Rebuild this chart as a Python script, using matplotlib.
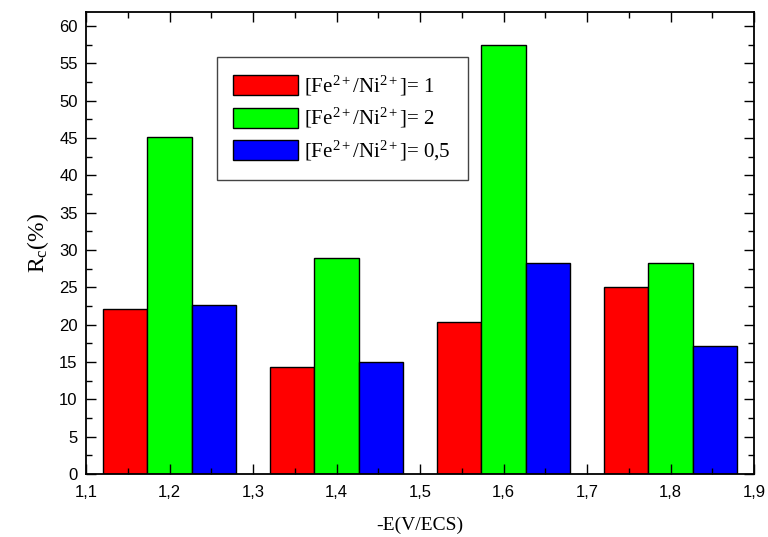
import matplotlib
matplotlib.use("Agg")
import matplotlib.pyplot as plt
from matplotlib.ticker import MultipleLocator, FuncFormatter

# data
potentials = [1.2, 1.4, 1.6, 1.8]
rc_ratio_1 = [22.1, 14.4, 20.4, 25.0]
rc_ratio_2 = [45.1, 29.0, 57.4, 28.3]
rc_ratio_05 = [22.7, 15.0, 28.3, 17.1]
labels = [r"[Fe$^{2+}$/Ni$^{2+}$]= 1",
          r"[Fe$^{2+}$/Ni$^{2+}$]= 2",
          r"[Fe$^{2+}$/Ni$^{2+}$]= 0,5"]
colors = ["#ff0000", "#00ff00", "#0000ff"]

plt.rcParams["mathtext.fontset"] = "custom"
plt.rcParams["mathtext.rm"] = "Liberation Serif"
plt.rcParams["mathtext.it"] = "Liberation Serif:italic"

fig = plt.figure(figsize=(7.68, 5.37), dpi=100)
ax = fig.add_axes([0.112, 0.117, 0.870, 0.861])

w = 0.0533
series = [rc_ratio_1, rc_ratio_2, rc_ratio_05]
for i, vals in enumerate(series):
    xs = [p + (i - 1) * w for p in potentials]
    ax.bar(xs, vals, width=w, color=colors[i], edgecolor="black",
           linewidth=1, label=labels[i])

ax.set_xlim(1.1, 1.9)
ax.set_ylim(0, 61.9)
ax.xaxis.set_major_locator(MultipleLocator(0.1))
ax.xaxis.set_minor_locator(MultipleLocator(0.05))
ax.yaxis.set_major_locator(MultipleLocator(5))
ax.yaxis.set_minor_locator(MultipleLocator(2.5))
ax.xaxis.set_major_formatter(FuncFormatter(lambda v, p: f"{v:.1f}".replace(".", ",")))

ax.tick_params(which="both", direction="in", top=True, right=True,
               labelsize=12, width=1)
ax.tick_params(which="major", length=7)
ax.tick_params(which="minor", length=4)
ax.tick_params(axis="x", which="major", pad=8)
ax.tick_params(axis="y", which="major", pad=6)
for lab in ax.get_xticklabels() + ax.get_yticklabels():
    lab.set_fontfamily("Liberation Sans")
for s in ax.spines.values():
    s.set_linewidth(1.3)

ax.set_xlabel("-E(V/ECS)", fontfamily="Liberation Serif", fontsize=14, labelpad=12)
ax.set_ylabel(r"R$_\mathrm{c}$(%)", fontfamily="Liberation Serif", fontsize=17, labelpad=6)

leg = ax.legend(loc="upper left", bbox_to_anchor=(0.18, 0.925),
                prop={"family": "Liberation Serif", "size": 15},
                fancybox=False, framealpha=1, edgecolor="#444444",
                handlelength=3.1, handleheight=1.1, borderpad=0.8,
                labelspacing=0.4, handletextpad=0.3)
leg.get_frame().set_linewidth(1)

fig.savefig("out.png", dpi=100)
